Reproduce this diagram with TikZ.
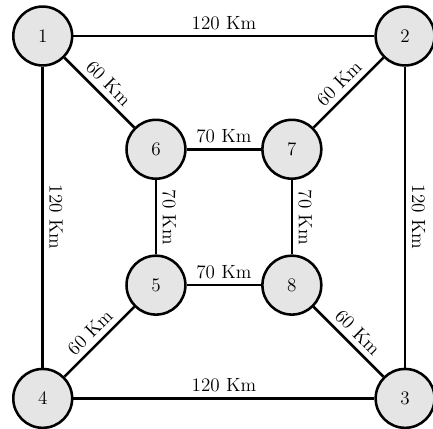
\documentclass[tikz,border=0pt]{standalone}
\usepackage{tikz}

\begin{document}
\begin{tikzpicture}[
  every node/.style={font=\large},
  city/.style={circle, draw, fill=gray!20, minimum size=1.3cm, line width=1.6pt},
  road/.style={line width=1.6pt},
  dist/.style={sloped, above},
  ]
  \useasboundingbox (-0.943,-0.662) rectangle (8.616,8.795);

  % 外层四个城市
  \node[city] (n1) at (0,8) {1};
  \node[city] (n2) at (8,8) {2};
  \node[city] (n3) at (8,0) {3};
  \node[city] (n4) at (0,0) {4};

  % 内层四个城市
  \node[city] (n6) at (2.5,5.5) {6};
  \node[city] (n7) at (5.5,5.5) {7};
  \node[city] (n5) at (2.5,2.5) {5};
  \node[city] (n8) at (5.5,2.5) {8};

  % 外层道路
  \draw[road] (n1) -- node[dist] {120 Km} (n2);
  \draw[road] (n1) -- node[dist] {120 Km} (n4);
  \draw[road] (n2) -- node[dist] {120 Km} (n3);
  \draw[road] (n4) -- node[dist] {120 Km} (n3);

  % 斜向道路
  \draw[road] (n1) -- node[dist] {60 Km} (n6);
  \draw[road] (n7) -- node[dist] {60 Km} (n2);
  \draw[road] (n4) -- node[dist] {60 Km} (n5);
  \draw[road] (n8) -- node[dist] {60 Km} (n3);

  % 内层道路
  \draw[road] (n6) -- node[dist] {70 Km} (n7);
  \draw[road] (n6) -- node[dist] {70 Km} (n5);
  \draw[road] (n7) -- node[dist] {70 Km} (n8);
  \draw[road] (n5) -- node[dist] {70 Km} (n8);
\end{tikzpicture}
\end{document}
